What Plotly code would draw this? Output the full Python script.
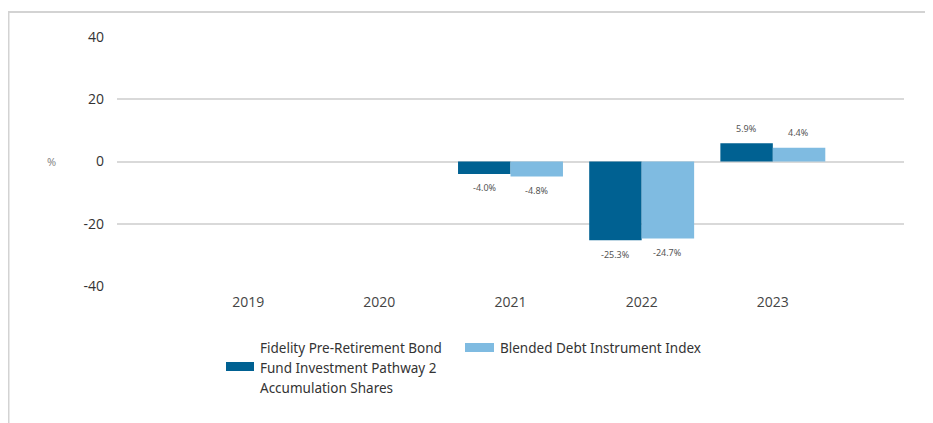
import plotly.graph_objects as go

years = ["2019", "2020", "2021", "2022", "2023"]
fund_name = "Fidelity Pre-Retirement Bond<br>Fund Investment Pathway 2<br>Accumulation Shares"
index_name = "Blended Debt Instrument Index"
fund_values = [None, None, -4.0, -25.3, 5.9]
index_values = [None, None, -4.8, -24.7, 4.4]
y_ticks = [-40, -20, 0, 20, 40]
y_tick_text = ["-40", "-20", "0", "20", "40"]

dark = "#006192"
light = "#7fbbe1"
OFF = 8  # page body margin
W, H = 933 - OFF, 423 - OFF
L, T = 117 - OFF, 37 - OFF
R = W - (904 - OFF)
B = H - (286 - OFF)
pw, ph = W - L - R, H - T - B

def px(x):
    return (x - OFF - L) / pw

def py(y):
    return (H - B - (y - OFF)) / ph

fig = go.Figure()
for name, vals, col in [(fund_name, fund_values, dark), (index_name, index_values, light)]:
    fig.add_trace(go.Bar(
        x=years, y=vals, name=name, marker=dict(color=col, line=dict(width=0)),
        showlegend=False, hoverinfo="x+y",
    ))

# data labels via annotations anchored on data coordinates (category index on x)
for vals, shift in [(fund_values, -26), (index_values, 26)]:
    for i, v in enumerate(vals):
        if v is None:
            continue
        fig.add_annotation(x=i, y=v, xref="x", yref="y", xshift=shift,
                           yshift=15 if v > 0 else -14, yanchor="middle", xanchor="center",
                           text=f"{v:.1f}%", showarrow=False,
                           font=dict(size=9, color="#555555", family="Noto Sans"))

fig.update_layout(
    width=W, height=H, margin=dict(l=L, r=R, t=T, b=B),
    paper_bgcolor="white", plot_bgcolor="white",
    barmode="group", bargap=0.2, bargroupgap=0,
    font=dict(family="Noto Sans", color="#333333"),
    xaxis=dict(type="category", range=[-1, 5], showgrid=False, zeroline=False,
               showline=False, ticks="", tickfont=dict(size=14, color="#444444", family="Open Sans"),
               ticklabelstandoff=6),
    yaxis=dict(range=[-40, 40], tickvals=y_ticks, ticktext=y_tick_text, showgrid=True,
               gridcolor="#d9d9d9", gridwidth=2, zeroline=True, zerolinecolor="#d9d9d9",
               zerolinewidth=2, showline=False, ticks="",
               tickfont=dict(size=14, color="#333333", family="Open Sans"),
               ticklabelstandoff=12),
)

shapes = [
    dict(type="line", xref="paper", yref="paper", x0=px(8), x1=px(940), y0=py(12), y1=py(12),
         line=dict(color="#d3d3d3", width=2)),
    dict(type="line", xref="paper", yref="paper", x0=px(8.5), x1=px(8.5), y0=py(12), y1=py(430),
         line=dict(color="#d3d3d3", width=2)),
    dict(type="rect", xref="paper", yref="paper", x0=px(226), x1=px(254), y0=py(362), y1=py(371),
         fillcolor=dark, line=dict(width=0)),
    dict(type="rect", xref="paper", yref="paper", x0=px(465), x1=px(494), y0=py(343), y1=py(352),
         fillcolor=light, line=dict(width=0)),
]
fig.update_layout(shapes=shapes)

legend_font = dict(size=13.5, color="#333333", family="Noto Sans")
for k, line in enumerate(fund_name.split("<br>")):
    fig.add_annotation(xref="paper", yref="paper", x=px(258), y=py(348 + 20 * k),
                       xanchor="left", yanchor="middle", text=line, showarrow=False,
                       align="left", font=legend_font)
fig.add_annotation(xref="paper", yref="paper", x=px(498), y=py(348), xanchor="left", yanchor="middle",
                   text=index_name, showarrow=False, align="left", font=legend_font)
fig.add_annotation(xref="paper", yref="paper", x=px(51), y=py(161), xanchor="center", yanchor="middle",
                   text="%", showarrow=False, font=dict(size=11, color="#888888", family="Noto Sans"))

fig.write_html("out.html")
